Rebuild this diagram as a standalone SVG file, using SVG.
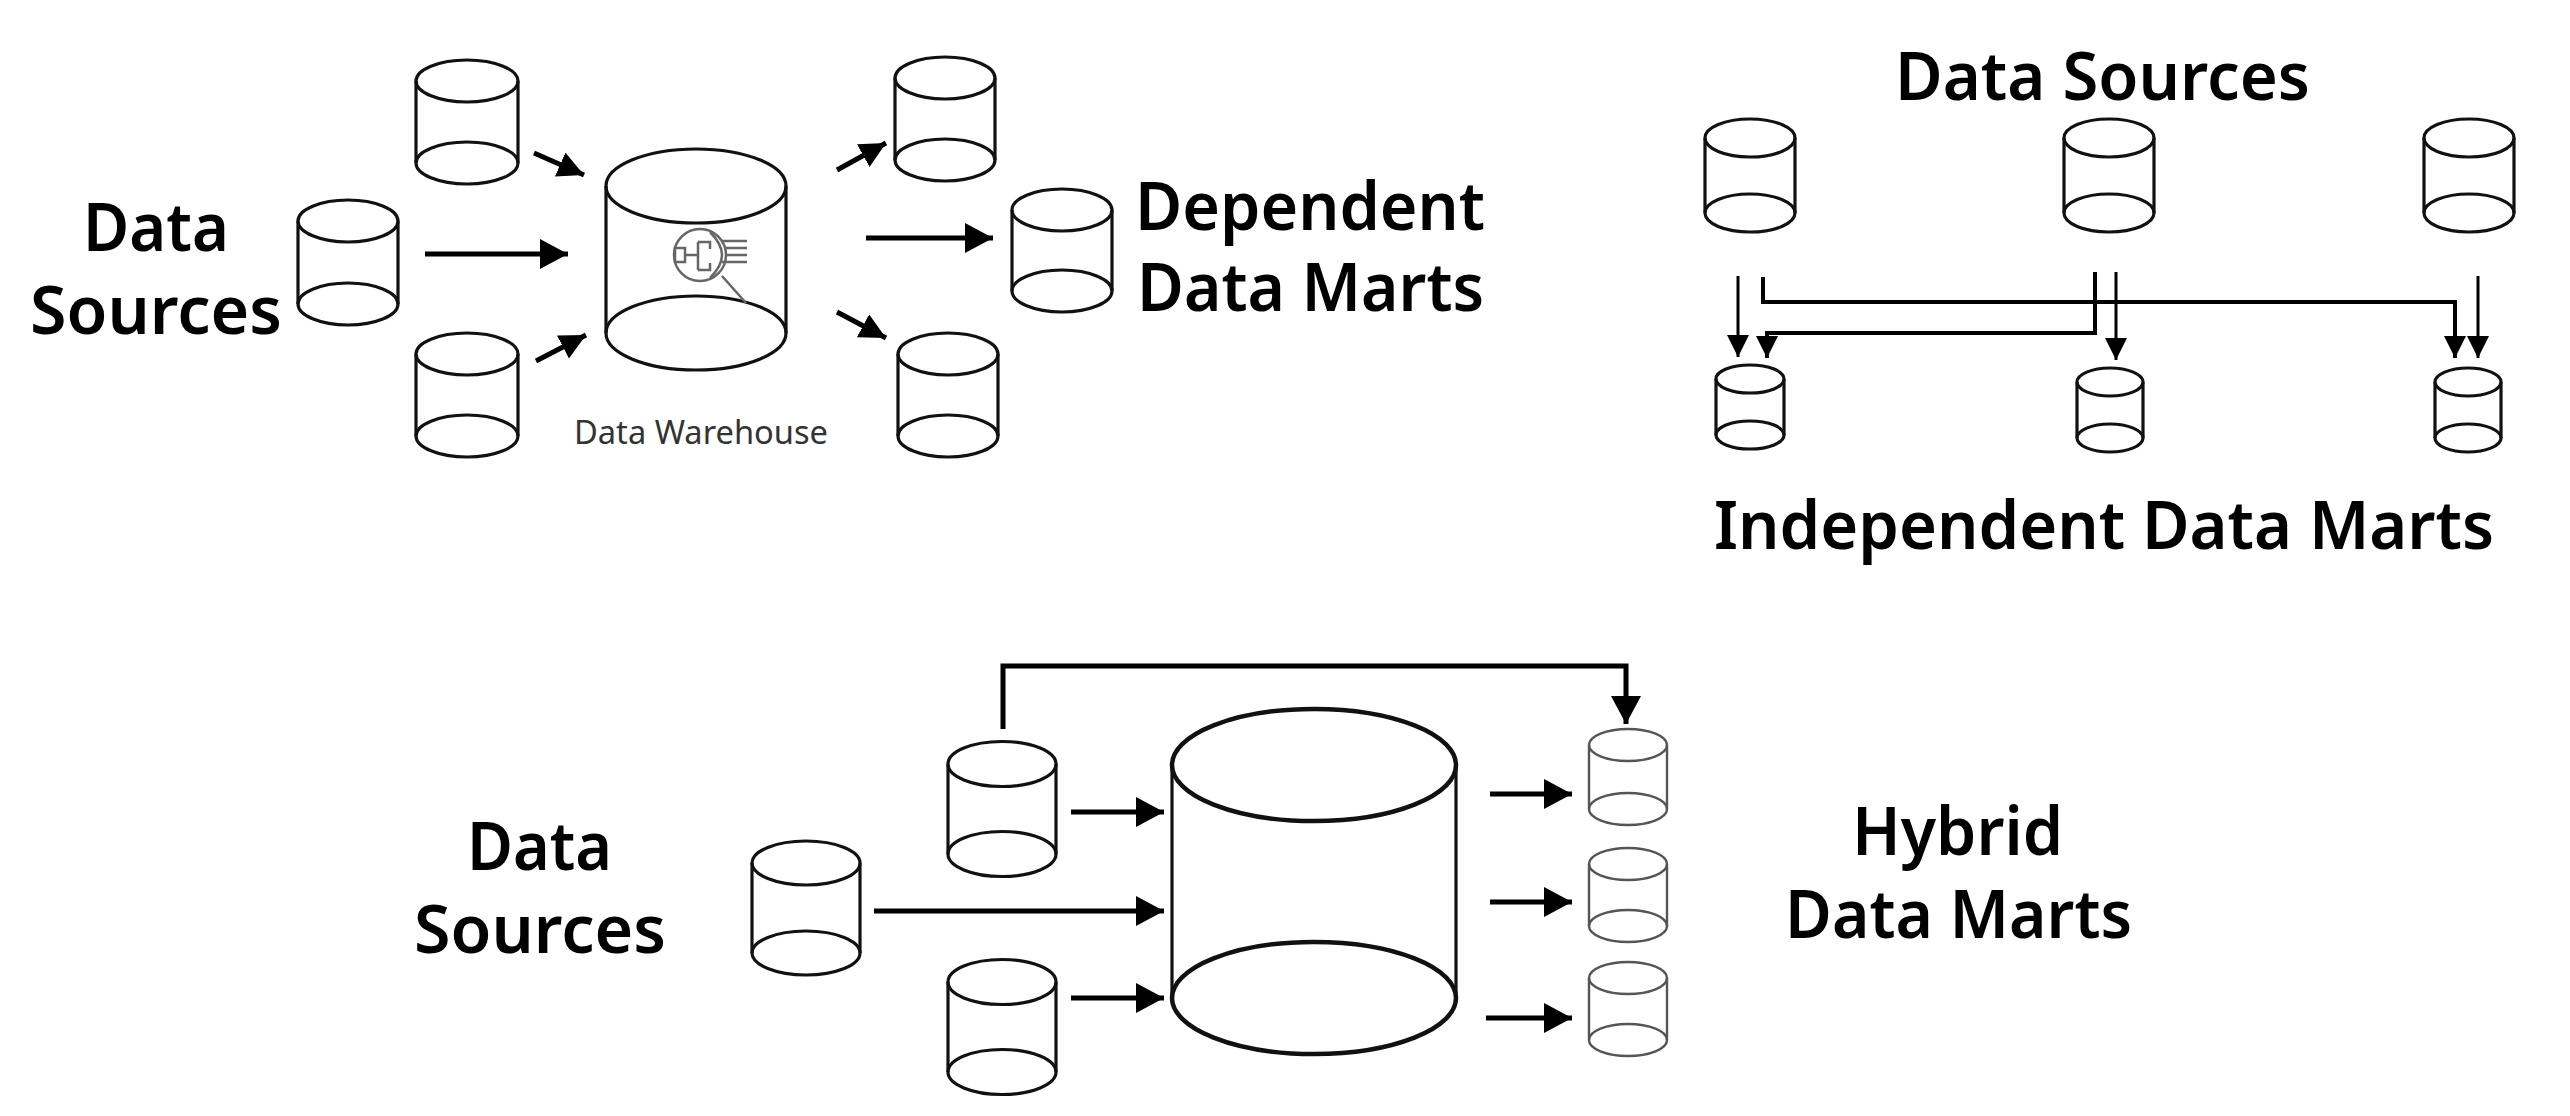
<svg xmlns="http://www.w3.org/2000/svg" width="2570" height="1116" viewBox="0 0 2570 1116">
<style>
.c{fill:none;stroke:#111;stroke-width:3.2}
.m{fill:none;stroke:#555;stroke-width:2.4}
.t{font-family:"Noto Sans","Open Sans",sans-serif;font-weight:600;font-size:66px;fill:#000;text-anchor:start}
.a{fill:none;stroke:#000;stroke-width:5}
.n{fill:none;stroke:#000;stroke-width:3}
.i{fill:none;stroke:#666;stroke-width:2.5}
</style>
<defs>
<marker id="big" markerUnits="userSpaceOnUse" markerWidth="32" markerHeight="32" refX="28" refY="15" orient="auto"><path d="M0 0L28 15L0 30Z" fill="#000"/></marker>
<marker id="mid" markerUnits="userSpaceOnUse" markerWidth="30" markerHeight="30" refX="26" refY="13" orient="auto"><path d="M0 0L26 13L0 26Z" fill="#000"/></marker>
<marker id="thin" markerUnits="userSpaceOnUse" markerWidth="26" markerHeight="26" refX="22" refY="11" orient="auto"><path d="M0 0L22 11L0 22Z" fill="#000"/></marker>
</defs>
<rect width="2570" height="1116" fill="#fff"/>
<g id="connectors">
<path class="a" marker-end="url(#mid)" d="M534 153L584 175"/>
<path class="a" marker-end="url(#big)" d="M425 254H568"/>
<path class="a" marker-end="url(#mid)" d="M536 361L586 335"/>
<path class="a" marker-end="url(#mid)" d="M837 170L886 143"/>
<path class="a" marker-end="url(#big)" d="M866 238H993"/>
<path class="a" marker-end="url(#mid)" d="M837 312L886 338"/>
<path class="n" marker-end="url(#thin)" d="M1738 276V357"/>
<path class="n" style="stroke-width:4" marker-end="url(#thin)" d="M1763 277V302H2455V358"/>
<path class="n" style="stroke-width:4" marker-end="url(#thin)" d="M2095 272V333H1767V358"/>
<path class="n" marker-end="url(#thin)" d="M2116 272V360"/>
<path class="n" marker-end="url(#thin)" d="M2478 276V358"/>
<path class="a" marker-end="url(#big)" d="M1003 729V666H1626V724"/>
<path class="a" marker-end="url(#big)" d="M1071 812H1164"/>
<path class="a" marker-end="url(#big)" d="M874 911H1164"/>
<path class="a" marker-end="url(#big)" d="M1071 998H1164"/>
<path class="a" marker-end="url(#big)" d="M1490 794H1572"/>
<path class="a" marker-end="url(#big)" d="M1490 902H1572"/>
<path class="a" marker-end="url(#big)" d="M1486 1018H1572"/>
</g>
<g id="dep-source-top"><ellipse class="c" cx="467" cy="81" rx="51" ry="21"/><ellipse class="c" cx="467" cy="163" rx="51" ry="21"/><path class="c" d="M416 81V163M518 81V163"/></g>
<g id="dep-source-mid"><ellipse class="c" cx="348" cy="221" rx="50" ry="21"/><ellipse class="c" cx="348" cy="304" rx="50" ry="21"/><path class="c" d="M298 221V304M398 221V304"/></g>
<g id="dep-source-bottom"><ellipse class="c" cx="467" cy="354" rx="51" ry="21"/><ellipse class="c" cx="467" cy="436" rx="51" ry="21"/><path class="c" d="M416 354V436M518 354V436"/></g>
<g id="dep-mart-top"><ellipse class="c" cx="945" cy="78" rx="50" ry="21"/><ellipse class="c" cx="945" cy="160" rx="50" ry="21"/><path class="c" d="M895 78V160M995 78V160"/></g>
<g id="dep-mart-mid"><ellipse class="c" cx="1062" cy="210" rx="50" ry="21"/><ellipse class="c" cx="1062" cy="291" rx="50" ry="21"/><path class="c" d="M1012 210V291M1112 210V291"/></g>
<g id="dep-mart-bottom"><ellipse class="c" cx="948" cy="354" rx="50" ry="21"/><ellipse class="c" cx="948" cy="436" rx="50" ry="21"/><path class="c" d="M898 354V436M998 354V436"/></g>
<g id="warehouse"><ellipse class="c" cx="696" cy="186" rx="90" ry="37"/><ellipse class="c" cx="696" cy="333" rx="90" ry="37"/><path class="c" d="M606 186V333M786 186V333"/>
<g id="warehouse-icon"><circle class="i" cx="700" cy="255" r="26"/><path class="i" d="M675 248H685V262H675ZM685 255H698M698 242V270M698 242H710V249M698 270H710V263M710 232C718 240 722 247 722 255C722 263 718 270 710 278M722 241H747M725 248H747M725 255H747M722 262H747M722 276L746 303"/></g></g>
<g id="ind-source-1"><ellipse class="c" cx="1750" cy="138" rx="45" ry="19"/><ellipse class="c" cx="1750" cy="213" rx="45" ry="19"/><path class="c" d="M1705 138V213M1795 138V213"/></g>
<g id="ind-source-2"><ellipse class="c" cx="2109" cy="138" rx="45" ry="19"/><ellipse class="c" cx="2109" cy="213" rx="45" ry="19"/><path class="c" d="M2064 138V213M2154 138V213"/></g>
<g id="ind-source-3"><ellipse class="c" cx="2469" cy="138" rx="45" ry="19"/><ellipse class="c" cx="2469" cy="213" rx="45" ry="19"/><path class="c" d="M2424 138V213M2514 138V213"/></g>
<g id="ind-mart-1"><ellipse class="c" cx="1750" cy="379" rx="34" ry="14"/><ellipse class="c" cx="1750" cy="435" rx="34" ry="14"/><path class="c" d="M1716 379V435M1784 379V435"/></g>
<g id="ind-mart-2"><ellipse class="c" cx="2110" cy="382" rx="33" ry="14"/><ellipse class="c" cx="2110" cy="438" rx="33" ry="14"/><path class="c" d="M2077 382V438M2143 382V438"/></g>
<g id="ind-mart-3"><ellipse class="c" cx="2468" cy="382" rx="33" ry="14"/><ellipse class="c" cx="2468" cy="438" rx="33" ry="14"/><path class="c" d="M2435 382V438M2501 382V438"/></g>
<g id="hyb-source-top"><ellipse class="c" cx="1002" cy="764" rx="54" ry="22.500"/><ellipse class="c" cx="1002" cy="854" rx="54" ry="22.500"/><path class="c" d="M948 764V854M1056 764V854"/></g>
<g id="hyb-source-mid"><ellipse class="c" cx="806" cy="863" rx="54" ry="22"/><ellipse class="c" cx="806" cy="953" rx="54" ry="22"/><path class="c" d="M752 863V953M860 863V953"/></g>
<g id="hyb-source-bottom"><ellipse class="c" cx="1002" cy="982" rx="54" ry="22.500"/><ellipse class="c" cx="1002" cy="1072" rx="54" ry="22.500"/><path class="c" d="M948 982V1072M1056 982V1072"/></g>
<g id="hyb-warehouse"><ellipse class="c" style="stroke-width:4.500" cx="1314" cy="765" rx="142" ry="56"/><ellipse class="c" style="stroke-width:4.500" cx="1314" cy="998" rx="142" ry="56"/><path class="c" d="M1172 765V998M1456 765V998"/></g>
<g id="hyb-mart-1"><ellipse class="m" cx="1628" cy="745" rx="39" ry="16"/><ellipse class="m" cx="1628" cy="809" rx="39" ry="16"/><path class="m" d="M1589 745V809M1667 745V809"/></g>
<g id="hyb-mart-2"><ellipse class="m" cx="1628" cy="864" rx="39" ry="16"/><ellipse class="m" cx="1628" cy="926" rx="39" ry="16"/><path class="m" d="M1589 864V926M1667 864V926"/></g>
<g id="hyb-mart-3"><ellipse class="m" cx="1628" cy="978" rx="39" ry="16"/><ellipse class="m" cx="1628" cy="1040" rx="39" ry="16"/><path class="m" d="M1589 978V1040M1667 978V1040"/></g>
<g id="labels">
<text class="t" x="83" y="251" textLength="146" lengthAdjust="spacingAndGlyphs">Data</text>
<text class="t" x="30" y="334" textLength="252" lengthAdjust="spacingAndGlyphs">Sources</text>
<text class="t" x="1135" y="230" textLength="350" lengthAdjust="spacingAndGlyphs">Dependent</text>
<text class="t" x="1137" y="311" textLength="347" lengthAdjust="spacingAndGlyphs">Data Marts</text>
<text x="574" y="444" textLength="254" lengthAdjust="spacingAndGlyphs" style="font-family:'Noto Sans','Open Sans',sans-serif;font-size:32px;fill:#333">Data Warehouse</text>
<text class="t" x="1895" y="100" textLength="415" lengthAdjust="spacingAndGlyphs">Data Sources</text>
<text class="t" x="1714" y="549" textLength="780" lengthAdjust="spacingAndGlyphs">Independent Data Marts</text>
<text class="t" x="467" y="870" textLength="145" lengthAdjust="spacingAndGlyphs">Data</text>
<text class="t" x="414" y="953" textLength="252" lengthAdjust="spacingAndGlyphs">Sources</text>
<text class="t" x="1852" y="855" textLength="211" lengthAdjust="spacingAndGlyphs">Hybrid</text>
<text class="t" x="1785" y="938" textLength="347" lengthAdjust="spacingAndGlyphs">Data Marts</text>
</g>
</svg>
